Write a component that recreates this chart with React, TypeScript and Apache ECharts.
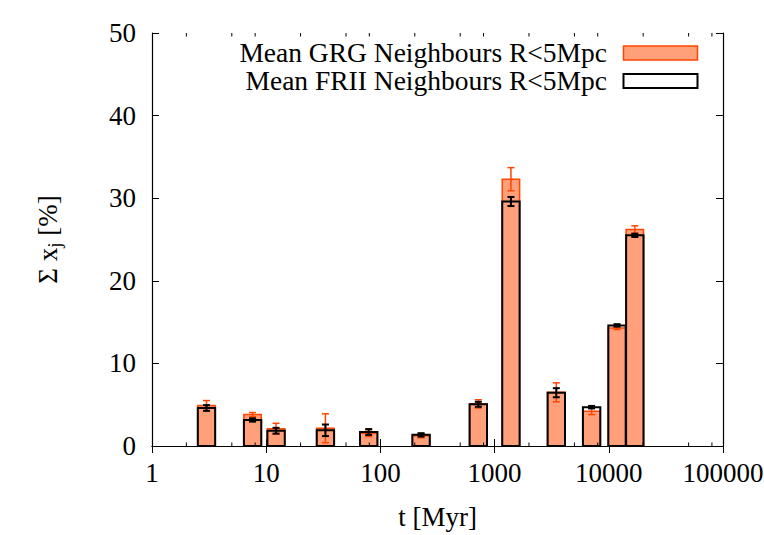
import { useEffect, useRef } from 'react'
import * as echarts from 'echarts'

// ages of the bins (Myr) and the mean light fractions per bin
const tMyr = [3, 7.6, 12.2, 33, 79, 227, 720, 1390, 3470, 7070, 11800, 16900]
const grgMean = [4.9, 3.8, 2.1, 2.15, 1.55, 1.25, 5.1, 32.3, 6.5, 4.2, 14.3, 26.2]
const grgErr = [0.6, 0.25, 0.65, 1.75, 0.4, 0.25, 0.5, 1.4, 1.15, 0.4, 0.2, 0.45]
const friiMean = [4.6, 3.15, 1.85, 1.9, 1.7, 1.35, 5.05, 29.6, 6.45, 4.7, 14.6, 25.5]
const friiErr = [0.35, 0.2, 0.35, 0.7, 0.35, 0.2, 0.3, 0.55, 0.55, 0.15, 0.15, 0.2]

const minorTicks = [2, 5, 8, 20, 50, 80, 200, 500, 800, 2000, 5000, 8000, 20000, 50000, 80000]
const legendNames = ['Mean GRG Neighbours R<5Mpc', 'Mean FRII Neighbours R<5Mpc']

const FONT = '"Liberation Serif", "Times New Roman", serif'
const FILL = '#FFA07A'
const ORANGE = '#FF4500'
const HALF_W = 8.7
const CAP = 3.5

function boxRender(fill: string, stroke: string, lineWidth: number) {
  return (_p: any, api: any) => {
    const t = api.value(0)
    const top = api.coord([t, api.value(1)])
    const base = api.coord([t, 0])
    return {
      type: 'rect',
      shape: { x: top[0] - HALF_W, y: top[1], width: HALF_W * 2, height: base[1] - top[1] },
      style: { fill, stroke, lineWidth },
    }
  }
}

function errRender(stroke: string, lineWidth: number) {
  return (_p: any, api: any) => {
    const t = api.value(0)
    const lo = api.coord([t, api.value(1)])
    const hi = api.coord([t, api.value(2)])
    const style = { stroke, lineWidth, fill: 'none' }
    return {
      type: 'group',
      children: [
        { type: 'line', shape: { x1: lo[0], y1: lo[1], x2: hi[0], y2: hi[1] }, style },
        { type: 'line', shape: { x1: lo[0] - CAP, y1: lo[1], x2: lo[0] + CAP, y2: lo[1] }, style },
        { type: 'line', shape: { x1: hi[0] - CAP, y1: hi[1], x2: hi[0] + CAP, y2: hi[1] }, style },
      ],
    }
  }
}

export default function App() {
  const chartRef = useRef<HTMLDivElement>(null)

  useEffect(() => {
    if (!chartRef.current) return
    const chart = echarts.init(chartRef.current, null, { renderer: 'svg' })

    const axisLine = { show: true, lineStyle: { color: '#000', width: 1.2 } }
    const tick = { show: true, inside: true, length: 7, lineStyle: { color: '#000', width: 1 } }

    const option = {
      animation: false,
      backgroundColor: '#fff',
      grid: { left: 152, right: 41, top: 33, bottom: 89, outerBoundsMode: 'none' },
      xAxis: [
        {
          type: 'log',
          logBase: 10,
          min: 1,
          max: 100000,
          position: 'bottom',
          axisLine,
          axisTick: tick,
          splitLine: { show: false },
          axisLabel: {
            color: '#000',
            fontSize: 27,
            fontFamily: FONT,
            margin: 13,
            formatter: (v: number) => String(Math.round(v)),
          },
          name: 't [Myr]',
          nameLocation: 'middle',
          nameGap: 57,
          nameTextStyle: { color: '#000', fontSize: 27, fontFamily: FONT },
        },
        {
          type: 'log',
          logBase: 10,
          min: 1,
          max: 100000,
          position: 'top',
          axisLine,
          axisTick: tick,
          splitLine: { show: false },
          axisLabel: { show: false },
        },
      ],
      yAxis: [
        {
          type: 'value',
          min: 0,
          max: 50,
          interval: 10,
          position: 'left',
          axisLine,
          axisTick: tick,
          splitLine: { show: false },
          axisLabel: { color: '#000', fontSize: 27, fontFamily: FONT, margin: 16 },
          name: '{n|Σ x}{s|j}{n| [%]}',
          nameLocation: 'middle',
          nameGap: 88,
          nameRotate: 90,
          nameTextStyle: {
            color: '#000',
            fontFamily: FONT,
            fontSize: 27,
            rich: {
              n: { fontSize: 27, fontFamily: FONT, color: '#000' },
              s: { fontSize: 19, fontFamily: FONT, color: '#000', padding: [14, 0, 0, 0] },
            },
          },
        },
        {
          type: 'value',
          min: 0,
          max: 50,
          interval: 10,
          position: 'right',
          axisLine,
          axisTick: tick,
          splitLine: { show: false },
          axisLabel: { show: false },
        },
      ],
      series: [
        {
          type: 'custom',
          name: legendNames[0],
          clip: false,
          renderItem: boxRender(FILL, ORANGE, 1.5),
          data: tMyr.map((t, i) => [t, grgMean[i]]),
        },
        {
          type: 'custom',
          clip: false,
          renderItem: errRender(ORANGE, 1.5),
          data: tMyr.map((t, i) => [t, grgMean[i] - grgErr[i], grgMean[i] + grgErr[i]]),
        },
        {
          type: 'custom',
          name: legendNames[1],
          clip: false,
          renderItem: boxRender('none', '#000', 2),
          data: tMyr.map((t, i) => [t, friiMean[i]]),
        },
        {
          type: 'custom',
          clip: false,
          renderItem: errRender('#000', 2),
          data: tMyr.map((t, i) => [t, friiMean[i] - friiErr[i], friiMean[i] + friiErr[i]]),
        },
        {
          // minor log ticks at bottom and top of the frame
          type: 'custom',
          clip: false,
          silent: true,
          renderItem: (_p: any, api: any) => {
            const t = api.value(0)
            const b = api.coord([t, 0])
            const tp = api.coord([t, 50])
            const style = { stroke: '#000', lineWidth: 1 }
            return {
              type: 'group',
              children: [
                { type: 'line', shape: { x1: b[0], y1: b[1], x2: b[0], y2: b[1] - 3.5 }, style },
                { type: 'line', shape: { x1: tp[0], y1: tp[1], x2: tp[0], y2: tp[1] + 3.5 }, style },
              ],
            }
          },
          data: minorTicks.map((t) => [t, 0]),
        },
      ],
      graphic: [
        {
          type: 'text',
          x: 607,
          y: 52,
          style: { text: legendNames[0], fill: '#000', font: `27.5px ${FONT}`, align: 'right', verticalAlign: 'middle' },
        },
        {
          type: 'rect',
          shape: { x: 623.5, y: 46, width: 74, height: 14 },
          style: { fill: FILL, stroke: ORANGE, lineWidth: 1.5 },
        },
        {
          type: 'text',
          x: 607,
          y: 80,
          style: { text: legendNames[1], fill: '#000', font: `27.5px ${FONT}`, align: 'right', verticalAlign: 'middle' },
        },
        {
          type: 'rect',
          shape: { x: 623.5, y: 74, width: 74, height: 14 },
          style: { fill: '#fff', stroke: '#000', lineWidth: 2 },
        },
      ],
    }

    chart.setOption(option as any)
    return () => chart.dispose()
  }, [])

  return (
    <div
      ref={chartRef}
      style={{ position: 'fixed', left: 0, top: 0, width: 764, height: 535, background: '#fff' }}
    />
  )
}
